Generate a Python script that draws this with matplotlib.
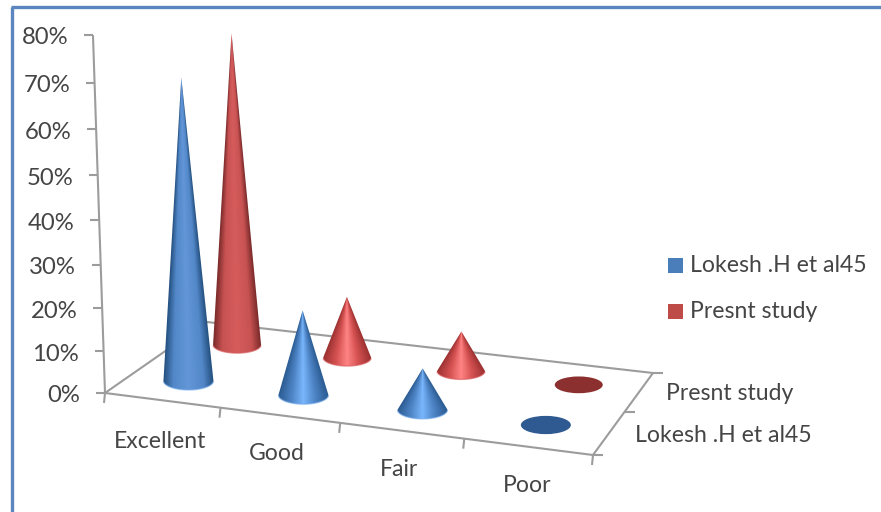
import numpy as np
import matplotlib
matplotlib.use("Agg")
import matplotlib.pyplot as plt
from matplotlib.patches import Polygon, Ellipse, Rectangle
from matplotlib.colors import LinearSegmentedColormap

# ---- data ----
categories = ["Excellent", "Good", "Fair", "Poor"]
series_names = ["Lokesh .H et al45", "Presnt study"]
lokesh = [70, 20, 10, 0]
present = [75, 15, 10, 0]
value_ticks = [0, 10, 20, 30, 40, 50, 60, 70, 80]

# ---- layout (pixel space of an 881x512 figure) ----
W, H = 881, 512
FLOOR_SCREEN = [(105, 393), (593, 455), (653, 373), (207, 322)]
TEXT = "#454545"
AXIS = "#9c9c9c"
FRAME = "#5b86c0"
FS = 16.6
FONT = "Lato"

fig = plt.figure(figsize=(W / 100, H / 100), dpi=100, facecolor="white")
ax = fig.add_axes([0, 0, 1, 1])
ax.set_axis_off()

nu, nv = len(categories), len(series_names)
src = [(0, 0), (nu, 0), (nu, nv), (0, nv)]
A, b = [], []
for (u, v), (x, y) in zip(src, FLOOR_SCREEN):
    A.append([u, v, 1, 0, 0, 0, -u * x, -v * x]); b.append(x)
    A.append([0, 0, 0, u, v, 1, -u * y, -v * y]); b.append(y)
h = np.linalg.solve(np.array(A, float), np.array(b, float))


def floor(u, v):
    w = h[6] * u + h[7] * v + 1
    return (h[0] * u + h[1] * v + h[2]) / w, (h[3] * u + h[4] * v + h[5]) / w


def project(u, v, val):
    x, y = floor(u, v)
    height = (4.475 - 0.1 * u - 0.18 * v) * val
    return x + (x - 385) * 0.00012 * height, y - height


def wall(val):
    """Point on the value axis; the wall is slightly foreshortened towards its foot."""
    x, y = floor(0, 0)
    height = 4.475 * val * (1 + 0.0009 * (val - value_ticks[-1]))
    return x + (x - 385) * 0.00012 * height, y - height


def line(p, q, color=AXIS, lw=1.5, z=1):
    ax.plot([p[0], q[0]], [p[1], q[1]], color=color, lw=lw, zorder=z, solid_capstyle="butt")


# frame
line((11.5, 512), (11.5, 6.5), FRAME, 2.4, 1)
line((10.5, 6.5), (881, 6.5), FRAME, 2.4, 1)

# axes and floor
line(wall(0), wall(value_ticks[-1]))
for t in value_ticks:
    p = wall(t)
    line((p[0] - 9, p[1]), p)
    ax.text(p[0] - 24.5, p[1] + 3, f"{t}%", ha="right", va="center",
            fontsize=FS + 0.6, color=TEXT, family=FONT)
corners = [floor(*c) for c in src]
for i in range(4):
    line(corners[i], corners[(i + 1) % 4])
for i in range(nu + 1):
    p = floor(i, 0)
    line(p, (p[0] - 1, p[1] + 10))
for j in range(nv + 1):
    p = floor(nu, j)
    line(p, (p[0] + 10, p[1]))

# category and depth labels
cat_pos = [(160, 442), (277, 454), (399, 469), (527, 485)]
for name, pos in zip(categories, cat_pos):
    ax.text(*pos, name, ha="center", va="center", fontsize=FS, color=TEXT, family=FONT)
ax.text(730, 394, series_names[1], ha="center", va="center", fontsize=FS, color=TEXT, family=FONT)
ax.text(723, 436, series_names[0], ha="center", va="center", fontsize=FS, color=TEXT, family=FONT)

# legend
legend_cols = ["#4a7ebb", "#be4b48"]
for name, col, y in zip(series_names, legend_cols, [265, 311]):
    ax.add_patch(Rectangle((668, y - 7.5), 15, 15, fc=col, ec="none", zorder=3))
    ax.text(690, y + 1, name, ha="left", va="center", fontsize=FS, color=TEXT, family=FONT)

# cones
palette = {
    0: dict(tall=("#6296d8", "#5287c8", "#24507f"), short=("#79b6fb", "#4f86c8", "#2a5a90"),
            flat="#2f5a91", rim="#6fa8ea"),
    1: dict(tall=("#d65c5c", "#c85252", "#7a2a2a"), short=("#ff8484", "#d65252", "#9a3030"),
            flat="#8c2f2f", rim="#d85a5a"),
}


def draw_cone(u, v, val, sidx, zorder):
    bx, by = floor(u, v)
    depth = (v / nv)
    rx = 25.5 - 2.0 * depth
    ry = 9.5 - 1.5 * depth
    pal = palette[sidx]
    if val == 0:
        ax.add_patch(Ellipse((bx, by), 2 * rx, 2 * ry, fc=pal["flat"], ec="none", zorder=zorder))
        return
    ax_, ay_ = project(u, v, val)
    cols = pal["tall"] if val > 30 else pal["short"]
    stop = 0.6 if val > 30 else 0.45
    cmap = LinearSegmentedColormap.from_list("c", [(0, cols[0]), (stop, cols[1]), (1, cols[2])])
    th = np.linspace(np.pi, 0, 40)
    outline = [(ax_, ay_)] + [(bx - rx * np.cos(t), by + ry * np.sin(t)) for t in np.pi - th]
    x0, x1 = int(bx - rx - 8), int(bx + rx + 8)
    y0, y1 = int(ay_ - 2), int(by + ry + 2)
    xs, ys = np.meshgrid(np.arange(x0, x1) + .5, np.arange(y0, y1) + .5)
    frac = np.clip((ys - ay_) / (by - ay_), 0.01, 1)
    cx = ax_ + (bx - ax_) * frac
    tt = np.clip(np.abs(xs - cx) / (rx * frac), 0, 1)
    img = cmap(tt)
    im = ax.imshow(img, extent=(x0, x1, y1, y0), interpolation="bilinear", aspect="auto", zorder=zorder)
    clip = Polygon(outline, closed=True, transform=ax.transData, fc="none", ec="none")
    ax.add_patch(clip)
    im.set_clip_path(clip)
    rim = [(bx - rx * np.cos(t), by + ry * np.sin(t)) for t in np.linspace(0.15, np.pi - 0.15, 30)]
    ax.plot(*zip(*rim), color=pal["rim"], lw=1.0, alpha=.6, zorder=zorder + 0.1)


series = [lokesh, present]
for s in [1, 0]:
    for c in range(nu):
        draw_cone(c + 0.5, s + 0.5, series[s][c], s, 5 + (1 - s) * 10 + c)

ax.set_xlim(0, W)
ax.set_ylim(H, 0)
fig.savefig("out.png", dpi=100, facecolor="white")
